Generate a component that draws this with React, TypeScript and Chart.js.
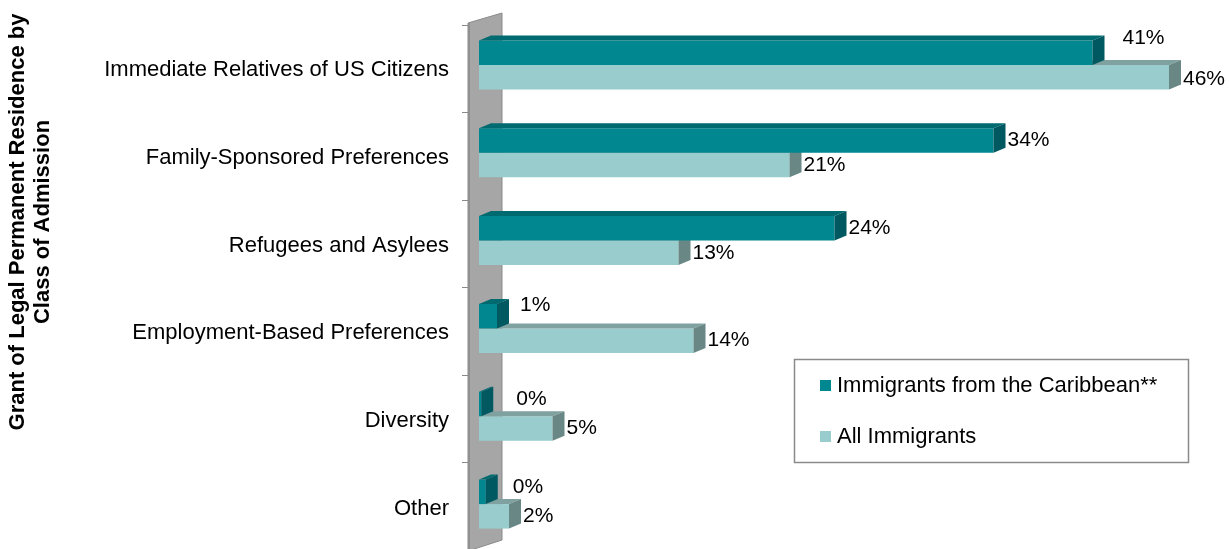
import React, { useEffect, useRef } from 'react';
import { Chart, registerables } from 'chart.js';

Chart.register(...registerables);

const categories = [
  'Immediate Relatives of US Citizens',
  'Family-Sponsored Preferences',
  'Refugees and Asylees',
  'Employment-Based Preferences',
  'Diversity',
  'Other',
];
const caribbean = [40.9, 34.3, 23.7, 1.2, 0.15, 0.45];
const allImmigrants = [46.0, 20.7, 13.3, 14.3, 4.9, 2.0];
const seriesNames = ['Immigrants from the Caribbean**', 'All Immigrants'];
const axisTitle = ['Grant of Legal Permanent Residence by', 'Class of Admission'];

const FONT = '"Liberation Sans", Arial, Helvetica, sans-serif';
const DX = 12;
const DY = -5;
const frontColors = ['#00878F', '#99CCCC'];
const topColors = ['#006A71', '#7FA19F'];
const sideColors = ['#005960', '#688785'];
// label nudges (style only) for each series, per category
const labelNudge = [
  [[16, -14], [0, 0], [0, 0], [9, -11], [21, -5], [13, -5]],
  [[0, 2], [0, 0], [0, 0], [0, 0], [0, 0], [0, 0]],
];

const pseudo3d = {
  id: 'pseudo3d',
  beforeDatasetsDraw(chart: any) {
    const { ctx } = chart;
    const xs = chart.scales.x;
    const ys = chart.scales.y;
    const x0 = xs.getPixelForValue(0);
    const band = ys.getPixelForValue(1) - ys.getPixelForValue(0);
    const wl = x0 - 11;
    const wr = x0 + 23;
    const top = chart.chartArea.top;
    ctx.save();
    // wall
    ctx.fillStyle = '#A6A6A6';
    ctx.beginPath();
    ctx.moveTo(wl, top + 2);
    ctx.lineTo(wr, top - 8);
    ctx.lineTo(wr, top + 519);
    ctx.lineTo(wl, top + 530);
    ctx.closePath();
    ctx.fill();
    ctx.strokeStyle = '#8A8A8A';
    ctx.lineWidth = 1;
    ctx.stroke();
    ctx.fillStyle = '#909090';
    ctx.fillRect(wl, top + 2, 2, 530);
    // ticks
    ctx.strokeStyle = '#8A8A8A';
    ctx.beginPath();
    for (let i = 0; i <= categories.length; i++) {
      const y = Math.round(ys.getPixelForValue(i) - band / 2 + 4 - i * 0.4) + 0.5;
      ctx.moveTo(wl - 6, y);
      ctx.lineTo(wl, y);
    }
    ctx.stroke();
    // category labels
    ctx.fillStyle = '#000';
    ctx.font = `22px ${FONT}`;
    ctx.textAlign = 'right';
    ctx.textBaseline = 'middle';
    categories.forEach((c, i) => {
      ctx.fillText(c, x0 - 30, ys.getPixelForValue(i) + 5);
    });
    // axis title
    ctx.font = `bold 22px ${FONT}`;
    ctx.textAlign = 'center';
    ctx.translate(18, 222);
    ctx.rotate(-Math.PI / 2);
    axisTitle.forEach((t, i) => ctx.fillText(t, 0, i * 25));
    ctx.restore();
  },
  afterDatasetDraw(chart: any, args: any) {
    const { ctx } = chart;
    const i = args.index;
    ctx.save();
    args.meta.data.forEach((bar: any) => {
      const { x, y, base, height } = bar.getProps(['x', 'y', 'base', 'height'], true);
      const t = y - height / 2;
      const b = y + height / 2;
      ctx.fillStyle = topColors[i];
      ctx.beginPath();
      ctx.moveTo(base, t);
      ctx.lineTo(x, t);
      ctx.lineTo(x + DX, t + DY);
      ctx.lineTo(base + DX, t + DY);
      ctx.closePath();
      ctx.fill();
      ctx.fillStyle = sideColors[i];
      ctx.beginPath();
      ctx.moveTo(x, t);
      ctx.lineTo(x + DX, t + DY);
      ctx.lineTo(x + DX, b + DY);
      ctx.lineTo(x, b);
      ctx.closePath();
      ctx.fill();
    });
    ctx.restore();
  },
  afterDatasetsDraw(chart: any) {
    const { ctx } = chart;
    ctx.save();
    ctx.fillStyle = '#000';
    ctx.font = `21px ${FONT}`;
    ctx.textAlign = 'left';
    ctx.textBaseline = 'middle';
    chart.data.datasets.forEach((ds: any, di: number) => {
      const meta = chart.getDatasetMeta(di);
      meta.data.forEach((bar: any, j: number) => {
        const { x, y } = bar.getProps(['x', 'y'], true);
        const n = labelNudge[di][j];
        ctx.fillText(`${Math.round(ds.data[j])}%`, x + DX + 2 + n[0], y + n[1]);
      });
    });
    // legend
    ctx.strokeStyle = '#8A8A8A';
    ctx.lineWidth = 1.5;
    ctx.strokeRect(794.5, 359.5, 394, 103);
    ctx.font = `22px ${FONT}`;
    chart.data.datasets.forEach((ds: any, di: number) => {
      const cy = 386 + di * 51;
      ctx.fillStyle = frontColors[di];
      ctx.fillRect(820, cy - 6, 11, 11);
      ctx.fillStyle = '#000';
      ctx.fillText(ds.label, 837, cy);
    });
    ctx.restore();
  },
};

export default function App() {
  const ref = useRef<HTMLCanvasElement>(null);
  useEffect(() => {
    if (!ref.current) return;
    const chart = new Chart(ref.current, {
      type: 'bar',
      data: {
        labels: categories,
        datasets: [
          { label: seriesNames[0], data: caribbean, backgroundColor: frontColors[0], borderWidth: 0 },
          { label: seriesNames[1], data: allImmigrants, backgroundColor: frontColors[1], borderWidth: 0 },
        ],
      },
      options: {
        indexAxis: 'y',
        animation: false,
        responsive: true,
        maintainAspectRatio: false,
        layout: { padding: { left: 479, right: 0, top: 21, bottom: 1 } },
        datasets: { bar: { categoryPercentage: 0.558, barPercentage: 1 } } as any,
        scales: {
          x: { display: false, min: 0, max: 50 },
          y: { display: false },
        },
        plugins: { legend: { display: false }, tooltip: { enabled: false } },
      },
      plugins: [pseudo3d],
    });
    return () => chart.destroy();
  }, []);
  return (
    <div style={{ position: 'absolute', left: 0, top: 0, width: 1229, height: 549, background: '#fff' }}>
      <canvas ref={ref} />
    </div>
  );
}
